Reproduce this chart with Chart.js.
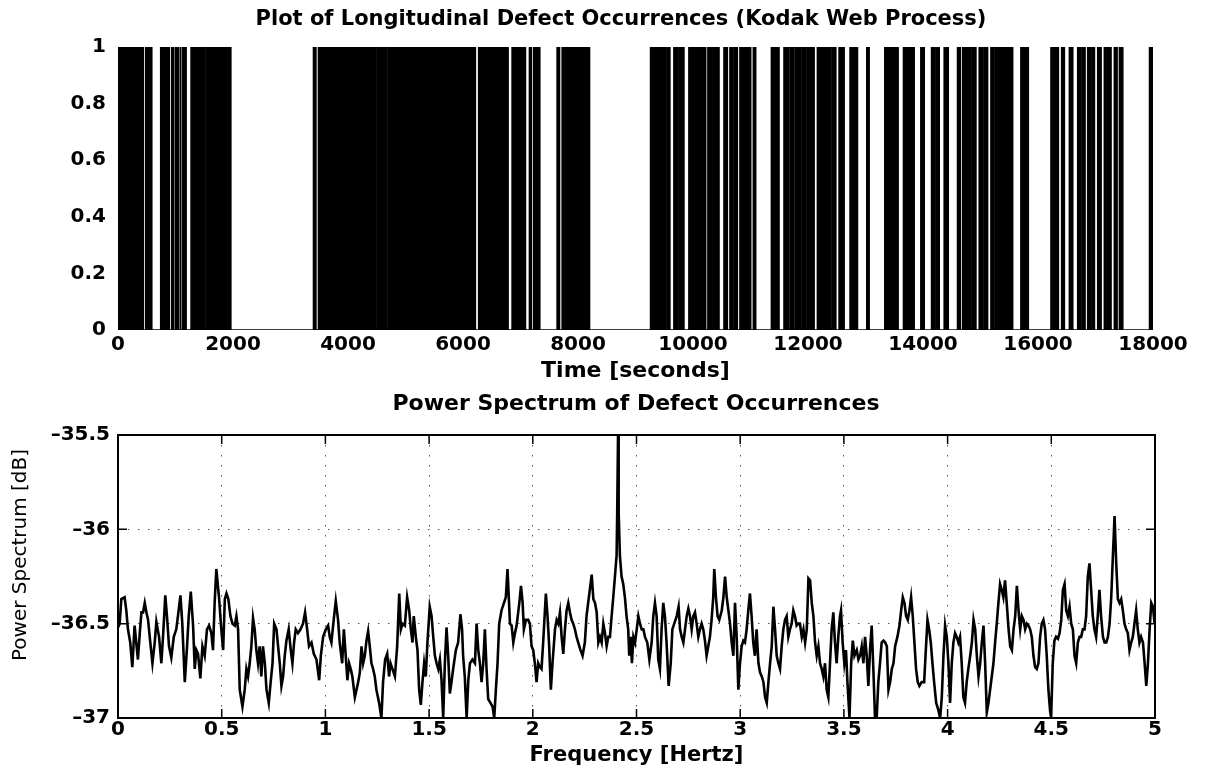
<!DOCTYPE html>
<html>
<head>
<meta charset="utf-8">
<script src="https://cdn.jsdelivr.net/npm/chart.js@4.4.1/dist/chart.umd.min.js"></script>
<style>
  body { margin: 0; background: #fff; }
  canvas { position: absolute; left: 0; }
</style>
</head>
<body>
<canvas id="topChart" width="1207" height="392" style="top:0"></canvas>
<canvas id="bottomChart" width="1207" height="386" style="top:392px"></canvas>
<script>
// defect blocks (seconds) where the signal is 1
const defectStart = [5, 482, 743, 830, 935, 1000, 1040, 1080, 1126, 1271,
  1544, 1905, 3400, 3487, 4503, 4706, 6273, 6854, 7016, 7156,
  7231, 7637, 7725, 9262, 9552, 9668, 9755, 9929, 10145, 10260,
  10539, 10643, 10713, 10817, 11050, 11364, 11583, 11700, 11787, 11844,
  11903, 11990, 12060, 12164, 12425, 12541, 12732, 13023, 13336, 13661,
  13963, 14149, 14224, 14369, 14601, 14688, 14862, 14978, 15065, 15182,
  15257, 15703, 16226, 16412, 16546, 16691, 16778, 16865, 16952, 17039,
  17154, 17328, 17416, 17940];
const defectEnd = [440, 587, 815, 893, 965, 1015, 1055, 1095, 1184, 1515,
  1890, 1962, 3442, 4474, 4677, 6215, 6784, 6999, 7086, 7190,
  7335, 7678, 8200, 9523, 9598, 9726, 9842, 10121, 10220, 10452,
  10597, 10684, 10771, 11003, 11090, 11496, 11670, 11757, 11827, 11874,
  11961, 12040, 12106, 12396, 12483, 12628, 12860, 13063, 13567, 13846,
  14021, 14195, 14282, 14439, 14647, 14833, 14920, 15036, 15123, 15228,
  15559, 15831, 16354, 16458, 16604, 16749, 16818, 16923, 16981, 17097,
  17270, 17375, 17474, 18000];

// power spectrum: frequency [Hz] and level [dB]
const freqHz = [
  0.000, 0.008, 0.016, 0.032, 0.040, 0.048, 0.059, 0.069, 0.080, 0.088,
  0.096, 0.105, 0.113, 0.121, 0.129, 0.137, 0.145, 0.153, 0.166, 0.177,
  0.185, 0.198, 0.209, 0.217, 0.228, 0.236, 0.246, 0.257, 0.269, 0.281,
  0.289, 0.301, 0.310, 0.322, 0.333, 0.341, 0.351, 0.362, 0.370, 0.378,
  0.386, 0.397, 0.407, 0.418, 0.429, 0.439, 0.450, 0.458, 0.466, 0.474,
  0.487, 0.498, 0.507, 0.515, 0.523, 0.532, 0.542, 0.552, 0.563, 0.571,
  0.579, 0.587, 0.600, 0.611, 0.619, 0.627, 0.635, 0.643, 0.651, 0.659,
  0.667, 0.675, 0.683, 0.691, 0.699, 0.708, 0.716, 0.727, 0.736, 0.745,
  0.753, 0.764, 0.772, 0.780, 0.788, 0.796, 0.804, 0.812, 0.823, 0.833,
  0.841, 0.849, 0.857, 0.868, 0.880, 0.892, 0.902, 0.912, 0.921, 0.933,
  0.944, 0.957, 0.970, 0.978, 0.989, 1.002, 1.013, 1.021, 1.029, 1.040,
  1.050, 1.061, 1.069, 1.081, 1.089, 1.098, 1.106, 1.114, 1.122, 1.130,
  1.142, 1.150, 1.158, 1.166, 1.174, 1.182, 1.190, 1.198, 1.206, 1.214,
  1.222, 1.230, 1.238, 1.246, 1.259, 1.270, 1.278, 1.288, 1.298, 1.307,
  1.314, 1.323, 1.335, 1.346, 1.356, 1.364, 1.372, 1.383, 1.394, 1.404,
  1.412, 1.420, 1.426, 1.436, 1.444, 1.452, 1.460, 1.468, 1.476, 1.484,
  1.492, 1.503, 1.512, 1.520, 1.528, 1.536, 1.544, 1.552, 1.560, 1.568,
  1.576, 1.584, 1.592, 1.600, 1.608, 1.616, 1.629, 1.640, 1.651, 1.659,
  1.664, 1.672, 1.681, 1.689, 1.697, 1.709, 1.721, 1.729, 1.737, 1.745,
  1.753, 1.761, 1.769, 1.777, 1.785, 1.796, 1.806, 1.814, 1.822, 1.830,
  1.838, 1.849, 1.861, 1.870, 1.878, 1.890, 1.898, 1.906, 1.914, 1.922,
  1.935, 1.943, 1.951, 1.957, 1.967, 1.978, 1.986, 1.994, 2.002, 2.010,
  2.018, 2.026, 2.034, 2.042, 2.050, 2.063, 2.071, 2.079, 2.087, 2.095,
  2.107, 2.115, 2.123, 2.131, 2.139, 2.147, 2.155, 2.163, 2.171, 2.179,
  2.187, 2.195, 2.203, 2.211, 2.219, 2.230, 2.240, 2.251, 2.259, 2.267,
  2.275, 2.284, 2.292, 2.300, 2.308, 2.316, 2.324, 2.332, 2.340, 2.348,
  2.356, 2.364, 2.372, 2.380, 2.388, 2.396, 2.404, 2.407, 2.411, 2.414,
  2.420, 2.428, 2.436, 2.444, 2.452, 2.460, 2.465, 2.472, 2.478, 2.485,
  2.493, 2.501, 2.509, 2.517, 2.525, 2.533, 2.541, 2.552, 2.562, 2.573,
  2.581, 2.589, 2.597, 2.605, 2.613, 2.621, 2.629, 2.637, 2.645, 2.655,
  2.665, 2.673, 2.682, 2.694, 2.703, 2.710, 2.718, 2.726, 2.734, 2.742,
  2.750, 2.758, 2.766, 2.774, 2.782, 2.790, 2.798, 2.806, 2.814, 2.822,
  2.830, 2.838, 2.846, 2.854, 2.862, 2.870, 2.875, 2.883, 2.891, 2.899,
  2.911, 2.919, 2.927, 2.935, 2.943, 2.951, 2.959, 2.967, 2.975, 2.983,
  2.991, 2.999, 3.007, 3.015, 3.023, 3.031, 3.039, 3.047, 3.055, 3.063,
  3.071, 3.079, 3.088, 3.096, 3.104, 3.112, 3.120, 3.128, 3.136, 3.144,
  3.152, 3.160, 3.168, 3.176, 3.184, 3.192, 3.200, 3.208, 3.216, 3.224,
  3.232, 3.240, 3.248, 3.256, 3.264, 3.272, 3.280, 3.288, 3.297, 3.305,
  3.313, 3.321, 3.329, 3.337, 3.345, 3.353, 3.361, 3.369, 3.377, 3.385,
  3.393, 3.401, 3.409, 3.417, 3.425, 3.433, 3.441, 3.449, 3.457, 3.465,
  3.473, 3.481, 3.486, 3.494, 3.502, 3.510, 3.517, 3.527, 3.535, 3.543,
  3.551, 3.562, 3.570, 3.578, 3.586, 3.594, 3.602, 3.610, 3.618, 3.626,
  3.634, 3.642, 3.650, 3.658, 3.666, 3.674, 3.682, 3.691, 3.699, 3.707,
  3.715, 3.723, 3.731, 3.739, 3.747, 3.758, 3.768, 3.776, 3.784, 3.792,
  3.800, 3.808, 3.816, 3.824, 3.832, 3.840, 3.848, 3.856, 3.864, 3.875,
  3.887, 3.895, 3.903, 3.911, 3.919, 3.927, 3.935, 3.945, 3.956, 3.964,
  3.972, 3.980, 3.988, 3.996, 4.004, 4.012, 4.020, 4.028, 4.036, 4.044,
  4.052, 4.060, 4.068, 4.076, 4.084, 4.092, 4.100, 4.109, 4.117, 4.125,
  4.133, 4.141, 4.149, 4.157, 4.165, 4.173, 4.181, 4.189, 4.197, 4.205,
  4.213, 4.221, 4.229, 4.237, 4.245, 4.253, 4.261, 4.269, 4.277, 4.285,
  4.294, 4.302, 4.310, 4.318, 4.326, 4.334, 4.342, 4.350, 4.358, 4.366,
  4.374, 4.382, 4.390, 4.398, 4.406, 4.414, 4.422, 4.430, 4.438, 4.446,
  4.454, 4.462, 4.470, 4.478, 4.486, 4.494, 4.499, 4.507, 4.515, 4.523,
  4.532, 4.540, 4.548, 4.556, 4.564, 4.572, 4.580, 4.588, 4.596, 4.604,
  4.612, 4.620, 4.628, 4.636, 4.644, 4.652, 4.660, 4.668, 4.676, 4.684,
  4.692, 4.700, 4.708, 4.716, 4.724, 4.732, 4.740, 4.749, 4.757, 4.765,
  4.773, 4.781, 4.789, 4.797, 4.805, 4.813, 4.821, 4.829, 4.837, 4.845,
  4.853, 4.861, 4.869, 4.877, 4.885, 4.893, 4.901, 4.909, 4.917, 4.925,
  4.933, 4.942, 4.950, 4.958, 4.966, 4.974, 4.982, 4.990, 4.998
];
const powerDb = [
  -36.52, -36.50, -36.37, -36.36, -36.43, -36.53, -36.60, -36.73, -36.51, -36.60,
  -36.69, -36.55, -36.44, -36.44, -36.39, -36.44, -36.48, -36.57, -36.71, -36.60,
  -36.49, -36.57, -36.71, -36.57, -36.35, -36.46, -36.62, -36.68, -36.57, -36.53,
  -36.46, -36.35, -36.50, -36.81, -36.62, -36.46, -36.33, -36.51, -36.74, -36.64,
  -36.66, -36.79, -36.62, -36.67, -36.53, -36.51, -36.55, -36.64, -36.39, -36.21,
  -36.36, -36.53, -36.64, -36.37, -36.34, -36.37, -36.46, -36.50, -36.51, -36.46,
  -36.53, -36.85, -36.94, -36.85, -36.74, -36.78, -36.71, -36.62, -36.47, -36.53,
  -36.64, -36.71, -36.62, -36.78, -36.62, -36.71, -36.85, -36.92, -36.81, -36.71,
  -36.50, -36.53, -36.62, -36.71, -36.83, -36.78, -36.67, -36.59, -36.53, -36.64,
  -36.71, -36.60, -36.53, -36.55, -36.53, -36.50, -36.44, -36.53, -36.62, -36.60,
  -36.66, -36.69, -36.80, -36.67, -36.57, -36.53, -36.51, -36.57, -36.60, -36.48,
  -36.38, -36.48, -36.60, -36.71, -36.53, -36.67, -36.80, -36.71, -36.74, -36.78,
  -36.89, -36.85, -36.81, -36.76, -36.62, -36.71, -36.67, -36.59, -36.54, -36.62,
  -36.71, -36.74, -36.78, -36.85, -36.92, -37.00, -36.81, -36.69, -36.66, -36.78,
  -36.71, -36.74, -36.78, -36.62, -36.34, -36.53, -36.50, -36.51, -36.36, -36.43,
  -36.53, -36.60, -36.46, -36.57, -36.64, -36.85, -36.93, -36.81, -36.71, -36.78,
  -36.60, -36.41, -36.46, -36.57, -36.67, -36.71, -36.74, -36.69, -36.80, -37.00,
  -36.71, -36.52, -36.67, -36.87, -36.81, -36.74, -36.64, -36.60, -36.45, -36.53,
  -36.67, -36.78, -37.00, -36.80, -36.71, -36.69, -36.71, -36.50, -36.64, -36.71,
  -36.81, -36.71, -36.53, -36.74, -36.90, -36.92, -36.94, -37.00, -36.85, -36.71,
  -36.50, -36.43, -36.39, -36.36, -36.21, -36.50, -36.51, -36.60, -36.55, -36.51,
  -36.39, -36.30, -36.39, -36.53, -36.48, -36.48, -36.50, -36.62, -36.64, -36.71,
  -36.81, -36.71, -36.73, -36.74, -36.60, -36.34, -36.46, -36.62, -36.85, -36.71,
  -36.53, -36.48, -36.50, -36.44, -36.57, -36.66, -36.53, -36.43, -36.39, -36.44,
  -36.48, -36.50, -36.53, -36.57, -36.60, -36.64, -36.67, -36.60, -36.46, -36.39,
  -36.32, -36.24, -36.37, -36.39, -36.44, -36.60, -36.57, -36.60, -36.50, -36.55,
  -36.62, -36.57, -36.57, -36.46, -36.36, -36.25, -36.14, -35.91, -35.50, -35.91,
  -36.14, -36.25, -36.29, -36.36, -36.46, -36.53, -36.67, -36.57, -36.71, -36.57,
  -36.60, -36.53, -36.46, -36.50, -36.53, -36.53, -36.57, -36.60, -36.69, -36.60,
  -36.46, -36.39, -36.46, -36.69, -36.74, -36.53, -36.39, -36.46, -36.60, -36.83,
  -36.71, -36.53, -36.50, -36.46, -36.41, -36.53, -36.57, -36.60, -36.53, -36.46,
  -36.42, -36.46, -36.53, -36.46, -36.44, -36.50, -36.57, -36.53, -36.50, -36.53,
  -36.59, -36.67, -36.62, -36.57, -36.48, -36.36, -36.21, -36.36, -36.46, -36.48,
  -36.43, -36.36, -36.25, -36.36, -36.43, -36.50, -36.60, -36.67, -36.39, -36.57,
  -36.85, -36.71, -36.62, -36.59, -36.60, -36.53, -36.43, -36.34, -36.46, -36.60,
  -36.67, -36.53, -36.71, -36.76, -36.78, -36.81, -36.89, -36.92, -36.81, -36.71,
  -36.62, -36.41, -36.53, -36.67, -36.71, -36.74, -36.62, -36.53, -36.48, -36.46,
  -36.57, -36.53, -36.50, -36.43, -36.46, -36.51, -36.50, -36.50, -36.57, -36.53,
  -36.60, -36.53, -36.26, -36.27, -36.39, -36.46, -36.60, -36.67, -36.62, -36.71,
  -36.74, -36.78, -36.71, -36.85, -36.89, -36.71, -36.53, -36.44, -36.60, -36.71,
  -36.57, -36.46, -36.43, -36.60, -36.71, -36.64, -36.81, -37.00, -36.71, -36.59,
  -36.67, -36.64, -36.69, -36.67, -36.62, -36.71, -36.57, -36.67, -36.83, -36.64,
  -36.51, -36.74, -37.00, -37.00, -36.81, -36.71, -36.60, -36.59, -36.60, -36.62,
  -36.85, -36.81, -36.74, -36.71, -36.62, -36.57, -36.51, -36.43, -36.36, -36.39,
  -36.46, -36.48, -36.43, -36.36, -36.46, -36.60, -36.74, -36.81, -36.83, -36.81,
  -36.81, -36.64, -36.48, -36.53, -36.60, -36.71, -36.81, -36.92, -36.96, -37.00,
  -36.89, -36.67, -36.51, -36.57, -36.71, -36.92, -36.71, -36.60, -36.55, -36.57,
  -36.60, -36.57, -36.71, -36.89, -36.92, -36.81, -36.74, -36.67, -36.60, -36.48,
  -36.53, -36.67, -36.78, -36.71, -36.60, -36.51, -36.71, -36.97, -36.92, -36.85,
  -36.78, -36.71, -36.60, -36.50, -36.39, -36.29, -36.32, -36.36, -36.27, -36.39,
  -36.53, -36.62, -36.64, -36.53, -36.46, -36.30, -36.43, -36.53, -36.46, -36.48,
  -36.53, -36.50, -36.51, -36.53, -36.57, -36.67, -36.73, -36.74, -36.71, -36.57,
  -36.50, -36.48, -36.53, -36.67, -36.85, -36.96, -37.00, -36.71, -36.59, -36.57,
  -36.58, -36.55, -36.48, -36.32, -36.29, -36.43, -36.46, -36.41, -36.50, -36.53,
  -36.67, -36.71, -36.60, -36.57, -36.57, -36.53, -36.53, -36.46, -36.25, -36.18,
  -36.32, -36.46, -36.53, -36.57, -36.46, -36.32, -36.46, -36.57, -36.60, -36.60,
  -36.57, -36.50, -36.36, -36.14, -35.93, -36.18, -36.37, -36.39, -36.37, -36.43,
  -36.50, -36.53, -36.55, -36.64, -36.60, -36.57, -36.50, -36.43, -36.53, -36.60,
  -36.57, -36.60, -36.71, -36.83, -36.71, -36.53, -36.39, -36.41, -36.50
];

Chart.defaults.font.family = 'DejaVu Sans';
Chart.defaults.color = '#000';

// build the 0/1 defect signal
const defectPoints = [{x: 0, y: 0}];
defectStart.forEach((s, i) => {
    defectPoints.push({x: s, y: 0}, {x: s, y: 1}, {x: defectEnd[i], y: 1}, {x: defectEnd[i], y: 0});
});
defectPoints.push({x: 18000, y: 0});

const spectrumPoints = freqHz.map((f, i) => ({x: f, y: powerDb[i]}));

let tickFont = {size: 20, weight: 'bold'};
let titleFont = {size: 21, weight: 'bold'};
// matlab style labels: 1 not 1.0, en dash for minus
let tickLabel = v => String(Math.round(v * 100) / 100).replace('-', '\u2013');

// titles and the y label, drawn where the original has them
const plotText = {
    id: 'plotText',
    afterDraw(chart, args, opts) {
        const ctx = chart.ctx;
        opts.items.forEach(it => {
            ctx.save();
            ctx.font = it.font;
            ctx.fillStyle = '#000';
            ctx.textAlign = 'center';
            ctx.textBaseline = 'middle';
            ctx.translate(it.x, it.y);
            ctx.rotate(it.rotate || 0);
            ctx.fillText(it.text, 0, 0);
            ctx.restore();
        });
    }
};

new Chart(document.getElementById('topChart'), {
    type: 'line',
    data: {
        datasets: [{
            data: defectPoints,
            borderColor: '#000',
            backgroundColor: '#000',
            borderWidth: 1.6,
            pointRadius: 0,
            tension: 0,
            fill: 'origin'
        }]
    },
    options: {
        responsive: false,
        animation: false,
        devicePixelRatio: 1,
        layout: { padding: { left: 0, right: 54, top: 47, bottom: 0 } },
        plugins: {
            legend: { display: false },
            tooltip: { enabled: false },
            plotText: { items: [
                { text: 'Plot of Longitudinal Defect Occurrences (Kodak Web Process)', font: 'bold 21px "DejaVu Sans"', x: 621, y: 20 }
            ] }
        },
        scales: {
            x: {
                type: 'linear',
                min: 0,
                max: 18000,
                grid: { display: false, drawTicks: false },
                border: { display: false },
                ticks: { stepSize: 2000, autoSkip: false, maxRotation: 0, padding: 3, font: tickFont,
                         callback: v => String(v) },
                title: { display: true, text: 'Time [seconds]', font: { size: 22, weight: 'bold' }, padding: { top: 0, bottom: 8 } },
                afterFit(s) { s.height = 62; }
            },
            y: {
                min: 0,
                max: 1,
                grid: { display: false, drawTicks: false },
                border: { display: false },
                ticks: { stepSize: 0.2, padding: 12, font: tickFont, callback: tickLabel },
                afterFit(s) { s.width = 118; }
            }
        }
    },
    plugins: [plotText]
});

// MATLAB-like box with inward ticks
const boxTicks = {
    id: 'boxTicks',
    afterDatasetsDraw(chart) {
        const {ctx, chartArea: a, scales: {x, y}} = chart;
        ctx.save();
        ctx.strokeStyle = '#000';
        ctx.lineWidth = 2;
        ctx.strokeRect(a.left, a.top, a.right - a.left, a.bottom - a.top);
        ctx.lineWidth = 1.5;
        ctx.beginPath();
        x.ticks.forEach(t => {
            let px = x.getPixelForValue(t.value);
            ctx.moveTo(px, a.bottom); ctx.lineTo(px, a.bottom - 9);
            ctx.moveTo(px, a.top); ctx.lineTo(px, a.top + 9);
        });
        y.ticks.forEach(t => {
            let py = y.getPixelForValue(t.value);
            ctx.moveTo(a.left, py); ctx.lineTo(a.left + 9, py);
            ctx.moveTo(a.right, py); ctx.lineTo(a.right - 9, py);
        });
        ctx.stroke();
        ctx.restore();
    }
};

new Chart(document.getElementById('bottomChart'), {
    type: 'line',
    data: {
        datasets: [{
            data: spectrumPoints,
            borderColor: '#000',
            borderWidth: 2.6,
            pointRadius: 0,
            tension: 0,
            fill: false
        }]
    },
    options: {
        responsive: false,
        animation: false,
        devicePixelRatio: 1,
        layout: { padding: { left: 0, right: 52, top: 43, bottom: 0 } },
        plugins: {
            legend: { display: false },
            tooltip: { enabled: false },
            plotText: { items: [
                { text: 'Power Spectrum of Defect Occurrences', font: 'bold 22px "DejaVu Sans"', x: 636, y: 12 },
                { text: 'Power Spectrum [dB]', font: '20px "DejaVu Sans"', x: 21, y: 163, rotate: -Math.PI / 2 }
            ] }
        },
        scales: {
            x: {
                type: 'linear',
                min: 0,
                max: 5,
                grid: { color: '#555', lineWidth: 1, drawTicks: false },
                border: { display: false, dash: [1.5, 8.5] },
                ticks: { stepSize: 0.5, autoSkip: false, maxRotation: 0, padding: 0, font: tickFont, callback: tickLabel },
                title: { display: true, text: 'Frequency [Hertz]', font: titleFont, padding: { top: 0, bottom: 10 } },
                afterFit(s) { s.height = 60; }
            },
            y: {
                min: -37,
                max: -35.5,
                grid: { color: '#555', lineWidth: 1, drawTicks: false },
                border: { display: false, dash: [1.5, 8.5] },
                ticks: { stepSize: 0.5, padding: 8, font: tickFont, callback: tickLabel },
                afterFit(s) { s.width = 118; }
            }
        }
    },
    plugins: [boxTicks, plotText]
});
</script>
</body>
</html>
